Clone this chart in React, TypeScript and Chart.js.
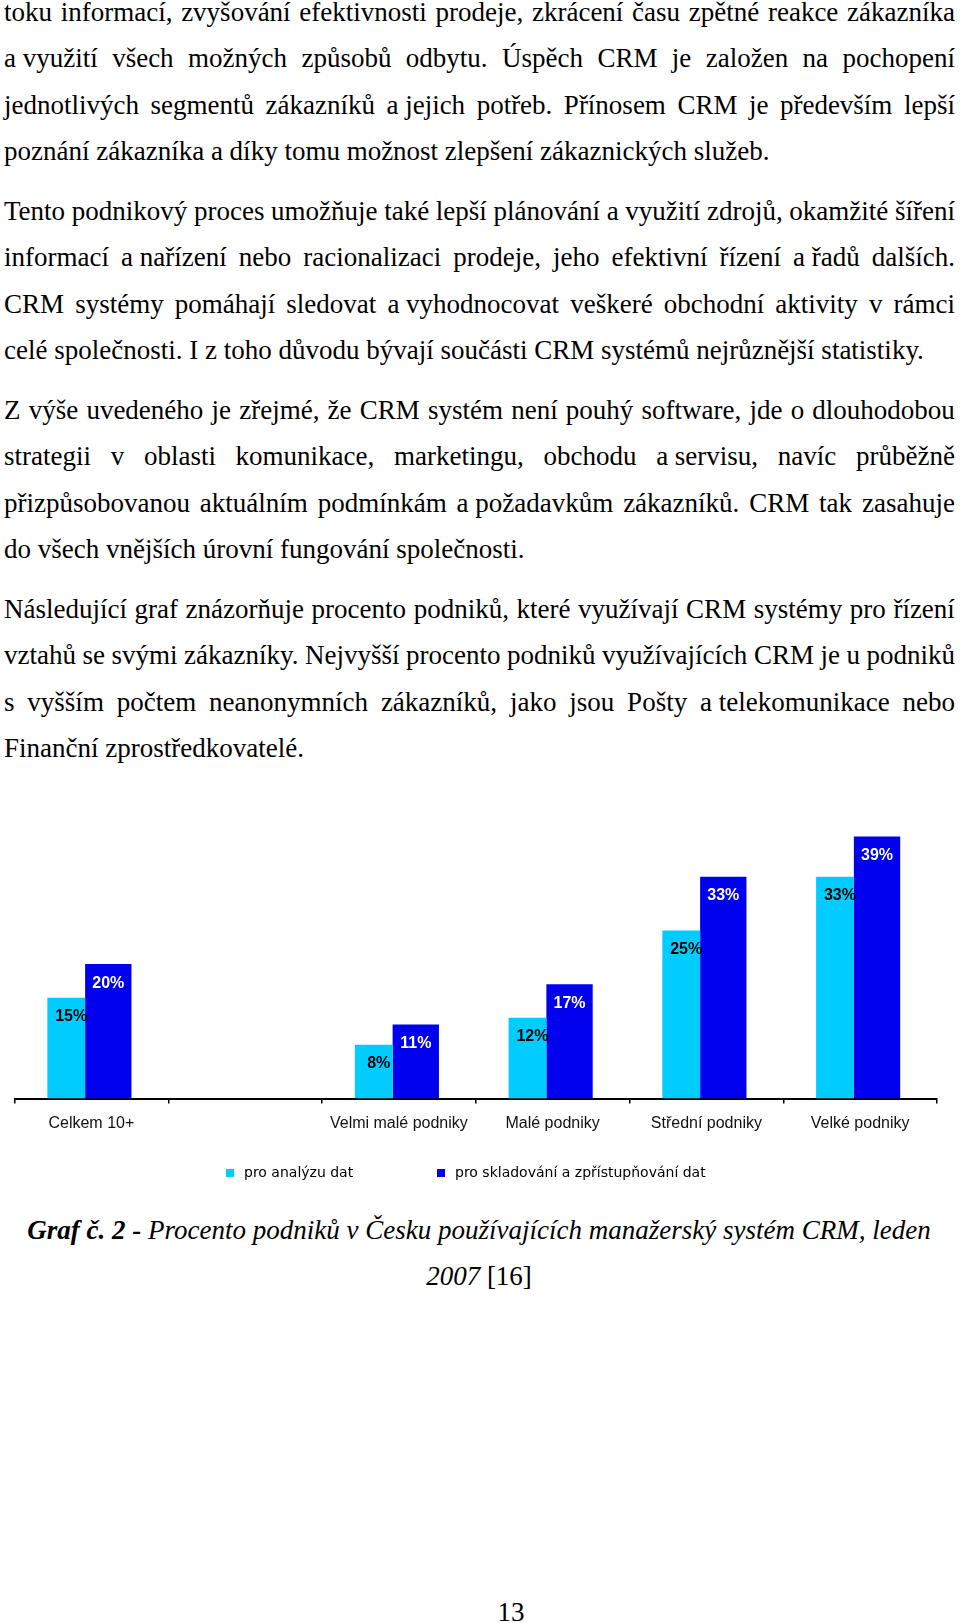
import React, { useEffect, useRef } from "react";
import { Chart, registerables } from "chart.js";

Chart.register(...registerables);

// ---- chart data ----
const categories = ["Celkem 10+", "", "Velmi malé podniky", "Malé podniky", "Střední podniky", "Velké podniky"];
const analysisValues = [15, null, 8, 12, 25, 33];
const storageValues = [20, null, 11, 17, 33, 39];
const seriesNames = ["pro analýzu dat", "pro skladování a zpřístupňování dat"];
const seriesColors = ["#00CCFF", "#0000EE"];
const labelColors = ["#000000", "#FFFFFF"];
const yMax = 40;

// ---- page text ("~" marks a fixed, non-stretching space) ----
const paragraphs: string[][] = [
  [
    "toku informací, zvyšování efektivnosti prodeje, zkrácení času zpětné reakce zákazníka",
    "a~využití všech možných způsobů odbytu. Úspěch CRM je založen na pochopení",
    "jednotlivých segmentů zákazníků a~jejich potřeb. Přínosem CRM je především lepší",
    "poznání zákazníka a díky tomu možnost zlepšení zákaznických služeb.",
  ],
  [
    "Tento podnikový proces umožňuje také lepší plánování a využití zdrojů, okamžité šíření",
    "informací a~nařízení nebo racionalizaci prodeje, jeho efektivní řízení a~řadů dalších.",
    "CRM systémy pomáhají sledovat a~vyhodnocovat veškeré obchodní aktivity v rámci",
    "celé společnosti. I z toho důvodu bývají součásti CRM systémů nejrůznější statistiky.",
  ],
  [
    "Z výše uvedeného je zřejmé, že CRM systém není pouhý software, jde o dlouhodobou",
    "strategii v oblasti komunikace, marketingu, obchodu a~servisu, navíc průběžně",
    "přizpůsobovanou aktuálním podmínkám a~požadavkům zákazníků. CRM tak zasahuje",
    "do všech vnějších úrovní fungování společnosti.",
  ],
  [
    "Následující graf znázorňuje procento podniků, které využívají CRM systémy pro řízení",
    "vztahů se svými zákazníky. Nejvyšší procento podniků využívajících CRM je u podniků",
    "s vyšším počtem neanonymních zákazníků, jako jsou Pošty a~telekomunikace nebo",
    "Finanční zprostředkovatelé.",
  ],
];
const captionBold = "Graf č. 2 -";
const captionRest = " Procento podniků v Česku používajících manažerský systém CRM, leden";
const captionYear = "2007";
const captionRef = " [16]";
const pageNumber = "13";

const serif = '"Liberation Serif", "Times New Roman", serif';

function Line({ text, last }: { text: string; last: boolean }) {
  const base: React.CSSProperties = {
    height: 46.5,
    lineHeight: "46.5px",
    whiteSpace: "pre",
  };
  if (last) {
    return <div style={base}>{text.replace(/~/g, " ")}</div>;
  }
  const words = text.split(" ");
  return (
    <div style={{ ...base, display: "flex", justifyContent: "space-between" }}>
      {words.map((w, i) => (
        <span key={i} style={{ marginRight: i < words.length - 1 ? 4 : 0 }}>
          {w.replace(/~/g, " ")}
        </span>
      ))}
    </div>
  );
}

const dataLabelPlugin = {
  id: "dataLabels",
  afterDatasetsDraw(chart: any) {
    const ctx = chart.ctx;
    ctx.save();
    ctx.font = 'bold 16px "Liberation Sans", Arial, sans-serif';
    ctx.textAlign = "center";
    ctx.textBaseline = "middle";
    chart.data.datasets.forEach((ds: any, di: number) => {
      const meta = chart.getDatasetMeta(di);
      meta.data.forEach((bar: any, i: number) => {
        const v = ds.data[i];
        if (v === null || v === undefined) return;
        ctx.fillStyle = labelColors[di];
        ctx.fillText(v + "%", bar.x + (di === 0 ? 5 : 0), bar.y + 19);
      });
    });
    ctx.restore();
  },
};

const legendPlugin = {
  id: "pageLegend",
  afterDraw(chart: any) {
    const ctx = chart.ctx;
    const xs = [226, 437];
    const y = 373;
    const box = 8;
    ctx.save();
    ctx.font = '14px "DejaVu Sans", Verdana, sans-serif';
    ctx.textBaseline = "middle";
    ctx.textAlign = "left";
    chart.data.datasets.forEach((ds: any, i: number) => {
      ctx.fillStyle = ds.backgroundColor;
      ctx.fillRect(xs[i], y - box / 2, box, box);
      ctx.fillStyle = "#000";
      ctx.fillText(ds.label, xs[i] + 18, y);
    });
    ctx.restore();
  },
};

function BarChart() {
  const ref = useRef<HTMLCanvasElement | null>(null);
  useEffect(() => {
    if (!ref.current) return;
    const chart = new Chart(ref.current, {
      type: "bar",
      data: {
        labels: categories,
        datasets: [
          {
            label: seriesNames[0],
            data: analysisValues,
            backgroundColor: seriesColors[0],
            categoryPercentage: 0.654,
            barPercentage: 0.751,
          },
          {
            label: seriesNames[1],
            data: storageValues,
            backgroundColor: seriesColors[1],
            categoryPercentage: 0.44,
            barPercentage: 1.37,
          },
        ],
      } as any,
      options: {
        animation: false,
        responsive: false,
        devicePixelRatio: 1,
        layout: { padding: { left: 14.5, right: 23, top: 29.7, bottom: 0 } },
        scales: {
          x: {
            grid: {
              display: true,
              drawOnChartArea: false,
              drawTicks: true,
              tickLength: 5,
              color: "#000",
              lineWidth: 1.5,
              offset: true,
            },
            border: { display: true, color: "#000", width: 2 },
            ticks: {
              color: "#111",
              font: { family: '"Liberation Sans", Arial, sans-serif', size: 16 },
              padding: 10,
              maxRotation: 0,
              autoSkip: false,
            },
            afterFit: (s: any) => {
              s.height = 101.5;
            },
          },
          y: { display: false, min: 0, max: yMax },
        },
        plugins: {
          legend: { display: false },
          tooltip: { enabled: false },
        },
      } as any,
      plugins: [dataLabelPlugin, legendPlugin],
    });
    return () => chart.destroy();
  }, []);
  return (
    <canvas
      ref={ref}
      width={960}
      height={400}
      style={{ position: "absolute", left: 0, top: 800, width: 960, height: 400 }}
    />
  );
}

export default function App() {
  return (
    <div
      style={{
        position: "absolute",
        left: 0,
        top: 0,
        width: 960,
        height: 1623,
        overflow: "hidden",
        background: "#fff",
        fontFamily: serif,
        fontSize: 27,
        color: "#000",
      }}
    >
      <div style={{ position: "absolute", left: 4, top: -11.3, width: 951 }}>
        {paragraphs.map((lines, pi) => (
          <div key={pi} style={{ marginBottom: 13 }}>
            {lines.map((l, li) => (
              <Line key={li} text={l} last={li === lines.length - 1} />
            ))}
          </div>
        ))}
      </div>
      <BarChart />
      <div
        style={{
          position: "absolute",
          left: 0,
          top: 1207,
          width: 958,
          textAlign: "center",
          lineHeight: "46px",
        }}
      >
        <div>
          <b><i>{captionBold}</i></b>
          <i>{captionRest}</i>
        </div>
        <div>
          <i>{captionYear}</i>
          {captionRef}
        </div>
      </div>
      <div
        style={{
          position: "absolute",
          left: 0,
          top: 1589,
          width: 1022,
          textAlign: "center",
          lineHeight: "46px",
        }}
      >
        {pageNumber}
      </div>
    </div>
  );
}
